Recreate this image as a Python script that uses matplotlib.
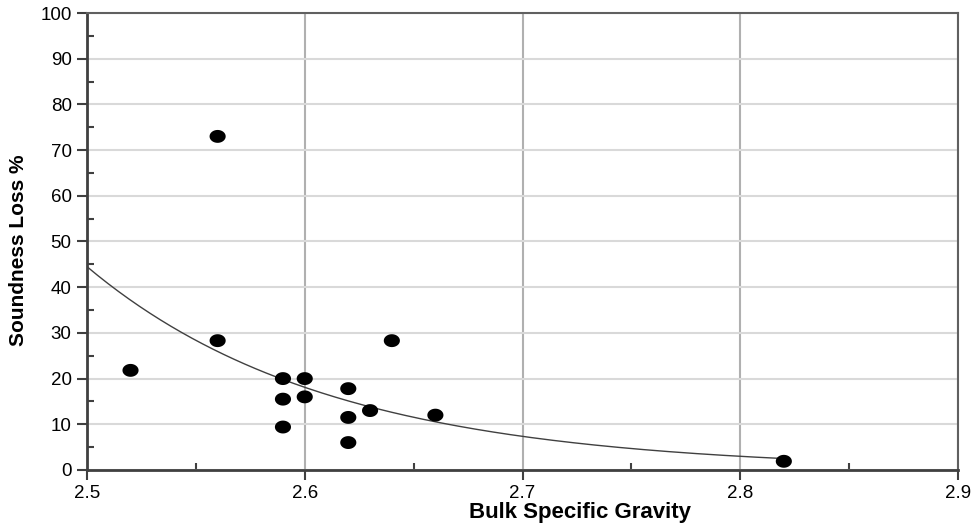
import numpy as np
import matplotlib
matplotlib.use("Agg")
import matplotlib.pyplot as plt
from matplotlib.ticker import MultipleLocator
from matplotlib.path import Path

plt.rcParams['font.family'] = ['Liberation Sans', 'DejaVu Sans']

bulk_sg = [2.52, 2.56, 2.56, 2.59, 2.59, 2.59, 2.60, 2.60, 2.62, 2.62, 2.62, 2.63, 2.64, 2.66, 2.82]
soundness_loss = [21.8, 73.0, 28.3, 20.0, 15.5, 9.4, 20.0, 16.0, 17.8, 11.5, 6.0, 13.0, 28.3, 12.0, 1.9]

# exponential trendline: y = a * exp(b * (x - 2.5))
trend_a = 44.5
trend_b = -9.0
trend_x = np.linspace(2.5, 2.82, 200)
trend_y = trend_a * np.exp(trend_b * (trend_x - 2.5))

fig = plt.figure(figsize=(9.76, 5.27), dpi=100)
ax = fig.add_axes([0.0891, 0.1082, 0.8925, 0.8671])

ax.set_xlim(2.5, 2.9)
ax.set_ylim(0, 100)

ax.xaxis.set_major_locator(MultipleLocator(0.1))
ax.xaxis.set_minor_locator(MultipleLocator(0.05))
ax.yaxis.set_major_locator(MultipleLocator(10))
ax.yaxis.set_minor_locator(MultipleLocator(5))
ax.xaxis.set_major_formatter(matplotlib.ticker.FuncFormatter(lambda v, p: f"{v:g}"))

ax.grid(axis='y', which='major', color='#d9d9d9', linewidth=1.5, zorder=0)
ax.grid(axis='x', which='major', color='#b0b0b0', linewidth=1.5, zorder=0)

ax.plot(trend_x, trend_y, color='#404040', linewidth=1.0, zorder=2)

theta = np.linspace(0, 2 * np.pi, 40)
ellipse = Path(np.column_stack([np.cos(theta), 0.8 * np.sin(theta)]), closed=True)
ax.scatter(bulk_sg, soundness_loss, s=135, marker=ellipse, color='black', edgecolors='none',
           zorder=3, clip_on=False)

for side in ['left', 'bottom']:
    ax.spines[side].set_color('#404040')
    ax.spines[side].set_linewidth(2.0)
for side in ['top', 'right']:
    ax.spines[side].set_color('#606060')
    ax.spines[side].set_linewidth(1.5)

ax.tick_params(axis='both', which='major', direction='out', length=7, width=1.5, color='#404040',
               labelsize=13.5, labelcolor='black')
ax.tick_params(axis='both', which='minor', direction='in', length=5, width=1.5, color='#404040')
ax.tick_params(axis='x', which='major', pad=4)
ax.tick_params(axis='y', which='major', pad=4)

ax.set_xlabel('Bulk Specific Gravity', fontsize=16, fontweight='bold')
ax.xaxis.set_label_coords(0.566, -0.070)
ax.set_ylabel('Soundness Loss %', fontsize=15, fontweight='bold')
ax.yaxis.set_label_coords(-0.068, 0.481)

fig.savefig('out.png', dpi=100, facecolor='white')
